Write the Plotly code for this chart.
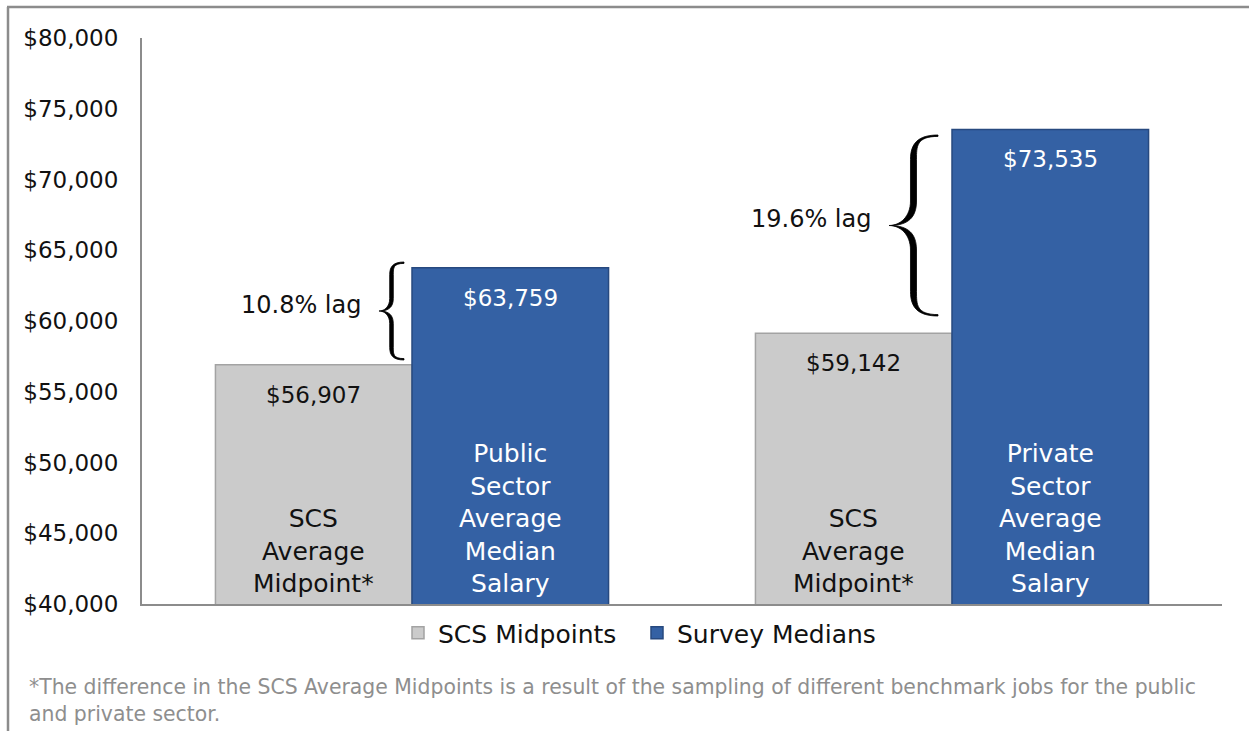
import plotly.graph_objects as go

# ---------------- data ----------------
categories = ["Public Sector", "Private Sector"]
series_names = ["SCS Midpoints", "Survey Medians"]
scs_midpoints = [56907, 59142]
survey_medians = [63759, 73535]
scs_labels = ["SCS<br>Average<br>Midpoint*", "SCS<br>Average<br>Midpoint*"]
survey_labels = ["Public<br>Sector<br>Average<br>Median<br>Salary",
                 "Private<br>Sector<br>Average<br>Median<br>Salary"]
lag_labels = ["10.8% lag", "19.6% lag"]
y_ticks = [40000, 45000, 50000, 55000, 60000, 65000, 70000, 75000, 80000]
footnote = ("*The difference in the SCS Average Midpoints is a result of the sampling of different "
            "benchmark jobs for the public<br>and private sector.")

# ---------------- style / layout ----------------
W, H = 1249, 731
ML, MR, MT, MB = 142, 27, 38, 127
PW, PH = W - ML - MR, H - MT - MB
YMIN, YMAX = 40000, 80000
BARGAP = 0.272
FONT = "DejaVu Sans"
GRAY_FILL, GRAY_LINE = "#cbcbcb", "#a3a3a3"
BLUE_FILL, BLUE_LINE = "#3461a4", "#27497f"
AXIS_COL = "#8c8c8c"


def px2paper(px):
    return (px - ML) / PW


def py2paper(py):
    return (MT + PH - py) / PH


def py2val(py):
    return YMIN + (MT + PH - py) / PH * (YMAX - YMIN)


fig = go.Figure()
fig.add_trace(go.Bar(x=categories, y=scs_midpoints, name=series_names[0],
                     marker=dict(color=GRAY_FILL, line=dict(color=GRAY_LINE, width=1.5))))
fig.add_trace(go.Bar(x=categories, y=survey_medians, name=series_names[1],
                     marker=dict(color=BLUE_FILL, line=dict(color=BLUE_LINE, width=1.5))))

# bar label annotations (positioned relative to each category)
cat_w = PW / len(categories)
bar_w = cat_w * (1 - BARGAP) / 2
off = bar_w / 2
ann = []
for i, c in enumerate(categories):
    ann.append(dict(x=c, y=scs_midpoints[i], xref="x", yref="y", xshift=-off, yshift=-30,
                    text=f"${scs_midpoints[i]:,}", showarrow=False,
                    font=dict(family=FONT, size=23, color="#111111"), yanchor="middle"))
    ann.append(dict(x=c, y=survey_medians[i], xref="x", yref="y", xshift=off, yshift=-30,
                    text=f"${survey_medians[i]:,}", showarrow=False,
                    font=dict(family=FONT, size=23, color="white"), yanchor="middle"))
    ann.append(dict(x=c, y=YMIN, xref="x", yref="y", xshift=-off, yshift=4,
                    text=scs_labels[i], showarrow=False, align="center",
                    font=dict(family=FONT, size=25, color="#111111"), yanchor="bottom"))
    ann.append(dict(x=c, y=YMIN, xref="x", yref="y", xshift=off, yshift=4,
                    text=survey_labels[i], showarrow=False, align="center",
                    font=dict(family=FONT, size=25, color="white"), yanchor="bottom"))

# braces (annotation geometry in pixels)
braces = [dict(xt=379, xe=404, top=262, bot=360, t=1.8),
          dict(xt=889, xe=938, top=135, bot=316, t=3.0)]


def brace_path(xt, xe, top, bot, t):
    w = xe - xt
    xs = xt + 0.5 * w
    ym = (top + bot) / 2
    r = 0.5 * w

    def P(x, y):
        return f"{px2paper(x):.5f},{py2val(y):.2f}"

    d = "M " + P(xe, top)
    d += " C " + P(xs - t + 0.3 * (xe - xs), top) + " " + P(xs - t, top + 0.35 * r) + " " + P(xs - t, top + r)
    d += " L " + P(xs - t, ym - r)
    d += " C " + P(xs - t, ym - 0.35 * r) + " " + P(xt + 0.45 * (xs - xt), ym) + " " + P(xt, ym)
    d += " C " + P(xt + 0.45 * (xs - xt), ym) + " " + P(xs - t, ym + 0.35 * r) + " " + P(xs - t, ym + r)
    d += " L " + P(xs - t, bot - r)
    d += " C " + P(xs - t, bot - 0.35 * r) + " " + P(xs - t + 0.3 * (xe - xs), bot) + " " + P(xe, bot)
    d += " L " + P(xe, bot - 1.4)
    d += " C " + P(xs + t, bot - 1.5) + " " + P(xs + t, bot - 0.45 * r) + " " + P(xs + t, bot - r)
    d += " L " + P(xs + t, ym + r)
    d += " C " + P(xs + t, ym + 0.3 * r) + " " + P(xt + 0.75 * (xs - xt), ym + 0.6) + " " + P(xt + 2.5, ym)
    d += " C " + P(xt + 0.75 * (xs - xt), ym - 0.6) + " " + P(xs + t, ym - 0.3 * r) + " " + P(xs + t, ym - r)
    d += " L " + P(xs + t, top + r)
    d += " C " + P(xs + t, top + 0.45 * r) + " " + P(xs + t, top + 1.5) + " " + P(xe, top + 1.4)
    d += " Z"
    return d


shapes = []
for i, b in enumerate(braces):
    shapes.append(dict(type="path", xref="paper", yref="y",
                       path=brace_path(b["xt"], b["xe"], b["top"], b["bot"], b["t"]),
                       fillcolor="black", line=dict(color="black", width=0.8)))
    ann.append(dict(x=px2paper(b["xt"] - 16), y=py2paper((b["top"] + b["bot"]) / 2 - 6),
                    xref="paper", yref="paper", xanchor="right", yanchor="middle",
                    text=lag_labels[i], showarrow=False,
                    font=dict(family=FONT, size=24, color="#111111")))

# footnote
ann.append(dict(x=px2paper(27), y=py2paper(673), xref="paper", yref="paper",
                xanchor="left", yanchor="top", align="left", text=footnote, showarrow=False,
                font=dict(family=FONT, size=20.4, color="#8e8e8e")))

# outer frame (left and top edges)
shapes.append(dict(type="line", xref="paper", yref="paper",
                   x0=px2paper(8), x1=px2paper(8), y0=py2paper(7), y1=py2paper(H + 5),
                   line=dict(color="#8c8c8c", width=2.5)))
shapes.append(dict(type="line", xref="paper", yref="paper",
                   x0=px2paper(7), x1=px2paper(W + 5), y0=py2paper(7), y1=py2paper(7),
                   line=dict(color="#8c8c8c", width=2.5)))

fig.update_layout(
    width=W, height=H,
    margin=dict(l=ML, r=MR, t=MT, b=MB),
    paper_bgcolor="white", plot_bgcolor="white",
    barmode="group", bargap=BARGAP, bargroupgap=0,
    font=dict(family=FONT, size=23, color="#111111"),
    showlegend=True,
    legend=dict(orientation="h", x=px2paper(637), xanchor="center",
                y=py2paper(633), yanchor="middle",
                font=dict(family=FONT, size=25, color="#111111"),
                itemwidth=30, entrywidth=194, bgcolor="rgba(0,0,0,0)"),
    xaxis=dict(showticklabels=False, showline=True, linecolor=AXIS_COL, linewidth=2,
               showgrid=False, zeroline=False, ticks=""),
    yaxis=dict(range=[YMIN, YMAX], tickvals=y_ticks, tickformat="$,.0f",
               showline=True, linecolor=AXIS_COL, linewidth=2, showgrid=False, zeroline=False,
               ticks="outside", ticklen=17, tickcolor="rgba(0,0,0,0)",
               tickfont=dict(family=FONT, size=23, color="#111111")),
    annotations=ann,
    shapes=shapes,
)

fig.write_html("out.html", config={"displayModeBar": False},
               post_script="document.body.style.margin='0px';")
